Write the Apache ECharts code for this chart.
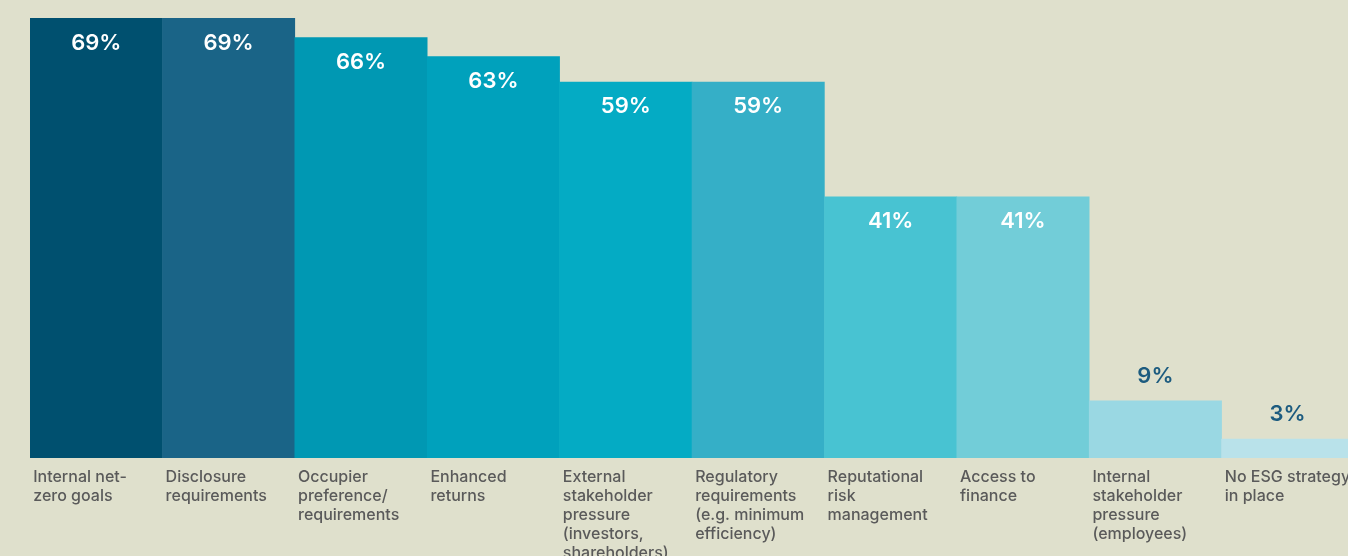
<!DOCTYPE html>
<html>
<head>
<meta charset="utf-8">
<script src="https://cdn.jsdelivr.net/npm/echarts@6/dist/echarts.min.js"></script>
<style>
html,body{margin:0;padding:0;background:#dfe0cc;}
#chart{width:1348px;height:556px;}
</style>
</head>
<body>
<div id="chart"></div>
<script>
const categories = [
  "Internal net-\nzero goals",
  "Disclosure\nrequirements",
  "Occupier\npreference/\nrequirements",
  "Enhanced\nreturns",
  "External\nstakeholder\npressure\n(investors,\nshareholders)",
  "Regulatory\nrequirements\n(e.g. minimum\nefficiency)",
  "Reputational\nrisk\nmanagement",
  "Access to\nfinance",
  "Internal\nstakeholder\npressure\n(employees)",
  "No ESG strategy\nin place"
];
const values = [69, 69, 66, 63, 59, 59, 41, 41, 9, 3];
const barColors = ["#00506f", "#1a6487", "#0098b3", "#00a1bc", "#04abc4", "#35afc7", "#48c3d2", "#72cdd8", "#9ad8e3", "#b9e2ea"];
const outsideThreshold = 20;

const chart = echarts.init(document.getElementById('chart'));
const data = values.map((v, i) => {
  const outside = v < outsideThreshold;
  return {
    value: v,
    itemStyle: { color: barColors[i] },
    label: outside ? {
      position: 'top', distance: 13, color: '#1c5b7f'
    } : {
      position: 'insideTop', distance: 14, color: '#ffffff'
    }
  };
});

chart.setOption({
  backgroundColor: '#dfe0cc',
  animation: false,
  grid: { left: 30, right: -6, top: 18, bottom: 98, outerBoundsMode: 'none', containLabel: false },
  xAxis: {
    type: 'category',
    data: categories,
    axisLine: { show: false },
    axisTick: { show: false },
    axisLabel: {
      interval: 0,
      margin: 10,
      align: 'center',
      verticalAlign: 'top',
      width: 126,
      formatter: v => '{a|' + v.split('\n').join('}\n{a|') + '}',
      rich: {
        a: {
          align: 'left',
          fontFamily: 'Inter',
          fontSize: 16,
          fontWeight: 500,
          lineHeight: 19,
          color: '#5a5a5a'
        }
      }
    }
  },
  yAxis: {
    type: 'value',
    min: 0,
    max: 69,
    show: false,
    splitLine: { show: false }
  },
  series: [{
    type: 'bar',
    data: data,
    barGap: '0%',
    barWidth: 133,
    label: {
      show: true,
      formatter: '{c}%',
      fontFamily: 'Inter',
      fontSize: 22,
      fontWeight: 600
    }
  }]
});
</script>
</body>
</html>
